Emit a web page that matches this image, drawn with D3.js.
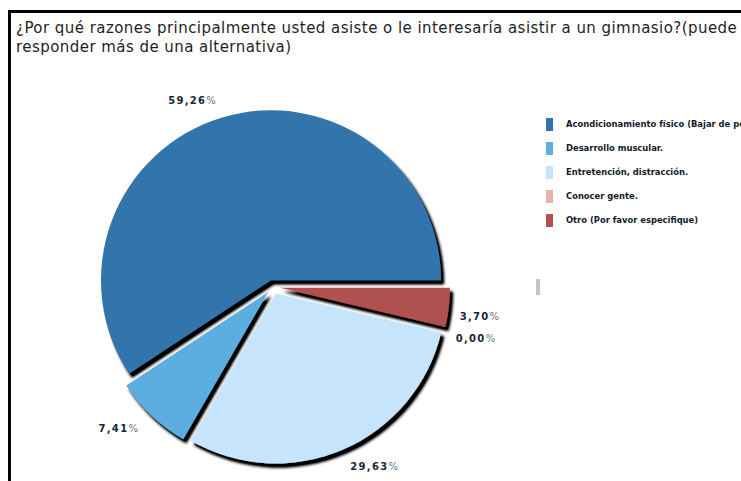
<!DOCTYPE html>
<html>
<head>
<meta charset="utf-8">
<script src="https://cdn.jsdelivr.net/npm/d3@7"></script>
<style>
  html, body { margin: 0; padding: 0; background: #fff; }
  svg { display: block; }
</style>
</head>
<body>
<svg id="chart" width="741" height="481"></svg>
<script>
// Survey answers: reasons for going to (or wanting to go to) a gym
const categories = [
  "Acondicionamiento físico (Bajar de peso)",
  "Desarrollo muscular.",
  "Entretención, distracción.",
  "Conocer gente.",
  "Otro (Por favor especifique)"
];
const percents = [59.26, 7.41, 29.63, 0.00, 3.70];
const percentLabels = ["59,26%", "7,41%", "29,63%", "0,00%", "3,70%"];
const colors = ["#3174ad", "#5cade0", "#c6e4fb", "#e8b2aa", "#b05150"];
const titleLines = [
  "¿Por qué razones principalmente usted asiste o le interesaría asistir a un gimnasio?(puede",
  "responder más de una alternativa)"
];

const svg = d3.select("#chart");
const W = 741, H = 481;

// outer frame (runs off the right and bottom edges)
svg.append("rect")
  .attr("x", 9.5).attr("y", 11.5)
  .attr("width", W + 20).attr("height", H + 20)
  .attr("fill", "#fff").attr("stroke", "#000").attr("stroke-width", 3);

// title
const title = svg.append("g");
titleLines.forEach((t, i) => {
  title.append("text")
    .attr("x", 16).attr("y", 33 + i * 19)
    .attr("font-family", "DejaVu Sans, Verdana, sans-serif")
    .attr("font-size", 15)
    .attr("letter-spacing", 0.45)
    .attr("fill", "#1e1e1e")
    .text(t);
});

// drop shadow used by every slice
const defs = svg.append("defs");
const f = defs.append("filter").attr("id", "shadow")
  .attr("x", "-20%").attr("y", "-20%").attr("width", "140%").attr("height", "140%");
f.append("feGaussianBlur").attr("in", "SourceAlpha").attr("stdDeviation", 1.6).attr("result", "b");
f.append("feOffset").attr("in", "b").attr("dx", 3).attr("dy", 3.5).attr("result", "o");
f.append("feComponentTransfer").attr("in", "o").attr("result", "s")
  .append("feFuncA").attr("type", "linear").attr("slope", 1.3);
const m = f.append("feMerge");
m.append("feMergeNode").attr("in", "s");
m.append("feMergeNode").attr("in", "SourceGraphic");

// pie: starts at 3 o'clock and runs counter-clockwise
const cx = 273, cy = 287, R = 170, explode = 7, labelR = 195;
const pie = d3.pie().sort(null).value(d => d)
  .startAngle(Math.PI / 2).endAngle(Math.PI / 2 - 2 * Math.PI);
const arcs = pie(percents);
const arc = d3.arc().innerRadius(0).outerRadius(R);

const pieG = svg.append("g").attr("transform", `translate(${cx},${cy})`);
arcs.forEach((a, i) => {
  if (a.value <= 0) return;
  const mid = (a.startAngle + a.endAngle) / 2;
  const dx = Math.sin(mid) * explode, dy = -Math.cos(mid) * explode;
  pieG.append("path")
    .attr("transform", `translate(${dx},${dy})`)
    .attr("d", arc(a))
    .attr("fill", colors[i])
    .attr("filter", "url(#shadow)");
});

// value labels outside the slices; labels close to 3 o'clock sit a little lower and inward
arcs.forEach((a, i) => {
  const mid = (a.startAngle + a.endAngle) / 2;
  let x = Math.sin(mid) * labelR, y = -Math.cos(mid) * labelR;
  const right = x >= 0;
  if (right && Math.abs(Math.cos(mid)) < 0.3) { x -= 7; y += 7; }
  const t = pieG.append("text")
    .attr("x", x).attr("y", y)
    .attr("dy", "0.35em")
    .attr("text-anchor", right ? "start" : "end")
    .attr("font-family", "DejaVu Sans, Verdana, sans-serif")
    .attr("font-size", 10).attr("font-weight", "bold")
    .attr("letter-spacing", 1.3)
    .attr("fill", "#17263a");
  const lbl = percentLabels[i];
  t.append("tspan").text(lbl.slice(0, -1));
  t.append("tspan").attr("fill", "#6a7380").attr("font-weight", "normal").text("%");
});

// legend
const legend = svg.append("g").attr("transform", "translate(546,118)");
categories.forEach((c, i) => {
  const g = legend.append("g").attr("transform", `translate(0,${i * 24})`);
  g.append("rect").attr("width", 7).attr("height", 13).attr("fill", colors[i]);
  g.append("text")
    .attr("x", 20).attr("y", 6.5).attr("dy", "0.35em")
    .attr("font-family", "DejaVu Sans, Verdana, sans-serif")
    .attr("font-size", 8.4).attr("font-weight", "bold")
    .attr("fill", "#111a2a")
    .text(c);
});

// small grey scroll marker
svg.append("rect").attr("x", 536).attr("y", 279).attr("width", 4).attr("height", 16).attr("fill", "#c4c4c4");
</script>
</body>
</html>
